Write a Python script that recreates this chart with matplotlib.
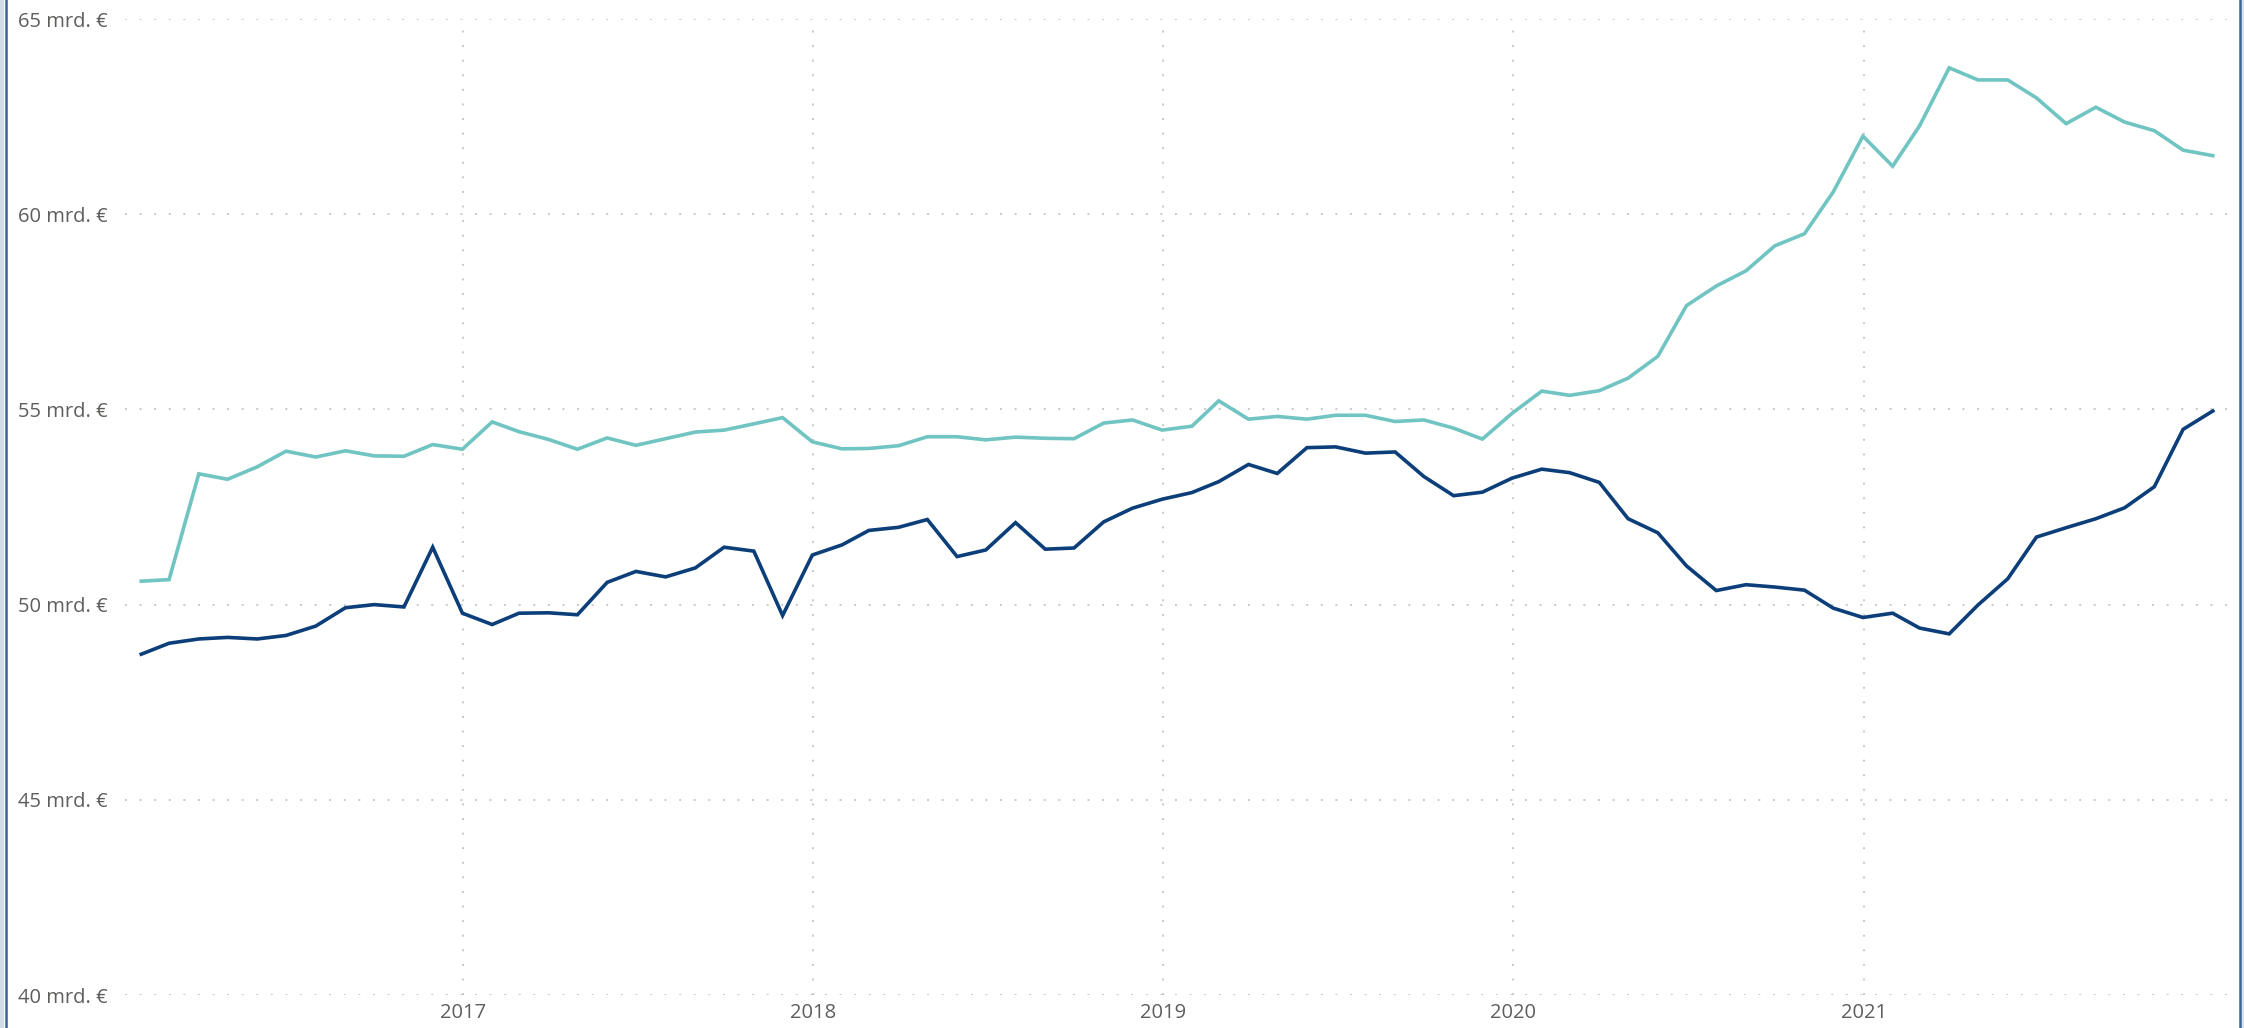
import matplotlib

matplotlib.use("Agg")
import matplotlib.pyplot as plt
import numpy as np
import pandas as pd
from matplotlib.lines import Line2D

# monthly values, Jan 2016 - Dec 2021 (plotted at month end)
months = pd.date_range("2016-01-31", periods=72, freq="ME")

light_series = [
    50.6, 50.64, 53.35, 53.21, 53.53, 53.93, 53.78, 53.94, 53.81, 53.8,
    54.1, 53.98, 54.68, 54.43, 54.23, 53.98, 54.27, 54.08, 54.25, 54.42,
    54.47, 54.63, 54.79, 54.17, 53.99, 54.0, 54.07, 54.3, 54.3, 54.22,
    54.29, 54.26, 54.25, 54.65, 54.73, 54.47, 54.57, 55.22, 54.75, 54.82,
    54.75, 54.85, 54.85, 54.69, 54.73, 54.52, 54.24, 54.9, 55.47, 55.36,
    55.48, 55.8, 56.36, 57.66, 58.16, 58.55, 59.19, 59.5, 60.57, 62.0,
    61.23, 62.26, 63.75, 63.44, 63.44, 62.98, 62.32, 62.74, 62.36, 62.14,
    61.64, 61.5,
]

dark_series = [
    48.73, 49.01, 49.12, 49.16, 49.12, 49.21, 49.45, 49.92, 50.0, 49.94,
    51.47, 49.78, 49.49, 49.78, 49.79, 49.74, 50.57, 50.85, 50.71, 50.94,
    51.47, 51.37, 49.72, 51.27, 51.53, 51.9, 51.98, 52.18, 51.23, 51.4,
    52.1, 51.42, 51.45, 52.12, 52.47, 52.7, 52.87, 53.15, 53.59, 53.36,
    54.02, 54.04, 53.88, 53.91, 53.28, 52.79, 52.88, 53.24, 53.47, 53.38,
    53.13, 52.2, 51.84, 50.99, 50.36, 50.51, 50.45, 50.37, 49.91, 49.67,
    49.78, 49.4, 49.25, 49.99, 50.66, 51.73, 51.97, 52.2, 52.48, 53.02,
    54.49, 54.96,
]

y_ticks = [40, 45, 50, 55, 60, 65]
year_ticks = [2017, 2018, 2019, 2020, 2021]

LIGHT = "#70c4c1"
DARK = "#0c3f7a"
TEXT = "#605e5c"
GRID = "#c8c8c8"

plt.rcParams["font.family"] = ["Open Sans", "DejaVu Sans"]

fig = plt.figure(figsize=(22.44, 10.28), dpi=100)
ax = fig.add_axes([0.0557, 0.0321, 0.9381, 0.9494])

ax.plot(months, light_series, color=LIGHT, lw=2.6, solid_joinstyle="miter")
ax.plot(months, dark_series, color=DARK, lw=2.6, solid_joinstyle="miter")

ax.set_ylim(40, 65)
ax.set_xlim(pd.Timestamp("2016-01-14"), pd.Timestamp("2022-01-18"))
ax.set_yticks(y_ticks, [f"{v} mrd. €" for v in y_ticks])
ax.set_xticks([pd.Timestamp(f"{y}-01-01") for y in year_ticks], [str(y) for y in year_ticks])

ax.grid(True, color=GRID, lw=1.4, linestyle=(0, (1, 6.5)))
ax.set_axisbelow(True)
for s in ax.spines.values():
    s.set_visible(False)
ax.tick_params(axis="both", length=0, labelsize=14.5, labelcolor=TEXT)
ax.tick_params(axis="y", pad=77)
ax.tick_params(axis="x", pad=6)
for lbl in ax.get_yticklabels():
    lbl.set_horizontalalignment("left")

# report frame edges
fig.add_artist(Line2D([0.0009, 0.0009], [0, 1], transform=fig.transFigure, color="#d0dce8", lw=3))
fig.add_artist(Line2D([0.0025, 0.0025], [0, 1], transform=fig.transFigure, color="#3a6290", lw=1.8))
fig.add_artist(Line2D([0.9982, 0.9982], [0, 1], transform=fig.transFigure, color="#3a6290", lw=1.8))
fig.add_artist(Line2D([0.9996, 0.9996], [0, 1], transform=fig.transFigure, color="#d0dce8", lw=1.2))

fig.savefig("out.png", dpi=100)
